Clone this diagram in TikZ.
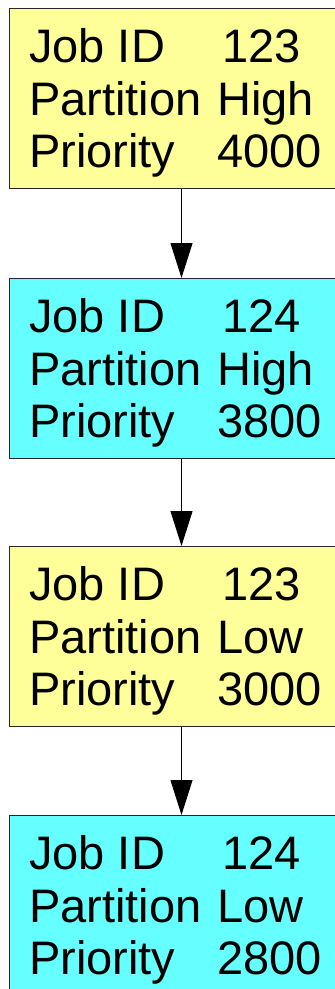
\documentclass[tikz,border=0pt]{standalone}
\usepackage{fontspec}
\setmainfont{Liberation Sans}
\usetikzlibrary{arrows.meta}
\definecolor{jobyellow}{HTML}{FFFF99}
\definecolor{jobcyan}{HTML}{66FFFF}
\begin{document}
\begin{tikzpicture}[x=1pt,y=-1pt,
  jobbox/.style={draw=black!85, line width=1pt, minimum width=344pt,
    minimum height=180pt, inner sep=0pt, anchor=north west},
  field/.style={anchor=base west, inner sep=0pt,
    font=\fontsize{47}{53}\selectfont},
  link/.style={line width=1pt, -{Triangle[width=22pt,length=35pt]}}]
\useasboundingbox (0,0) rectangle (335,989);
\clip (0,0) rectangle (335,989);
% job records: index / top / fill / id / partition / priority
\foreach \i/\top/\col/\id/\part/\prio in {
    1/8/jobyellow/123/High/4000,
    2/278/jobcyan/124/High/3800,
    3/546/jobyellow/123/Low/3000,
    4/815/jobcyan/124/Low/2800} {
  \node[jobbox, fill=\col] (b\i) at (9,\top) {};
  \node[field] (k\i a) at (29,\top+54)  {Job ID};
  \node[field] (v\i a) at (222,\top+54) {\id};
  \node[field] (k\i b) at (29,\top+107) {Partition};
  \node[field] (v\i b) at (217,\top+107) {\part};
  \node[field] (k\i c) at (29,\top+159) {Priority};
  \node[field] (v\i c) at (217,\top+159) {\prio};
}
% queue order
\draw[link] (b1.south) -- (b2.north);
\draw[link] (b2.south) -- (b3.north);
\draw[link] (b3.south) -- (b4.north);
\end{tikzpicture}
\end{document}
